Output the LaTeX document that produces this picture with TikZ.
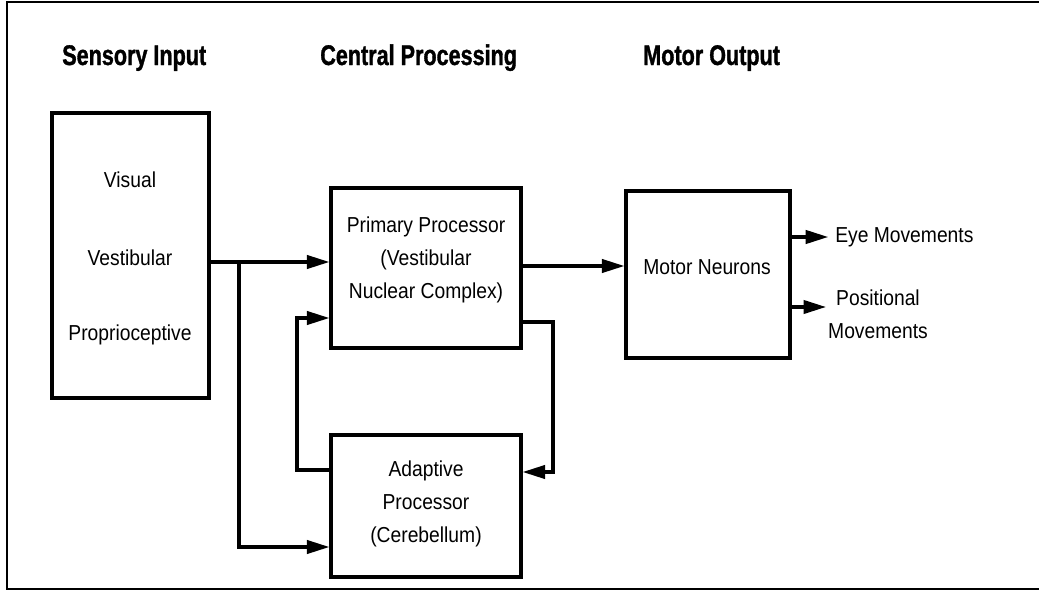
\documentclass[tikz,border=0pt]{standalone}
\usepackage{fontspec}
\setmainfont{Liberation Sans}
\newfontfamily\hdfont[FakeStretch=0.76,BoldFeatures={FakeBold=1.2}]{Liberation Sans}
\newfontfamily\bodyfont[FakeStretch=0.89]{Liberation Sans}
\usetikzlibrary{arrows.meta}
\begin{document}
\begin{tikzpicture}[x=0.025cm,y=-0.025cm,
 box/.style={draw,line width=2.3pt,inner sep=0pt},
 lbl/.style={font=\bodyfont\fontsize{15.4pt}{23.4pt}\selectfont,align=center,inner sep=0pt},
 hdr/.style={font=\hdfont\bfseries\fontsize{20.2pt}{24pt}\selectfont,anchor=base west,inner sep=0pt},
 conn/.style={line width=2.2pt},
 arr/.style={conn,-{Triangle[length=16pt,width=9.5pt]}}]
\useasboundingbox (0,0) rectangle (1039,592);
\draw[line width=1.4pt] (1039,2) -- (7,2) -- (7,589) -- (1039,589);
% headers
\node[hdr] (h1) at (62,65) {Sensory Input};
\node[hdr] (h2) at (320,65) {Central Processing};
\node[hdr] (h3) at (643,65) {Motor Output};
% boxes
\node[box,minimum width=3.925cm,minimum height=7.125cm] (sens) at (130.5,255.5) {};
\node[box,minimum width=4.75cm,minimum height=4cm] (prim) at (426,268) {};
\node[box,minimum width=4.75cm,minimum height=3.55cm] (adap) at (426,506) {};
\node[box,minimum width=4.1cm,minimum height=4.175cm] (motor) at (708,274.5) {};
% texts
\node[lbl] (tvis) at (130,180) {Visual};
\node[lbl] (tves) at (130,258) {Vestibular};
\node[lbl] (tpro) at (130,335) {Proprioceptive};
\node[lbl] (tprim) at (426,260) {Primary Processor\\(Vestibular\\Nuclear Complex)};
\node[lbl] (tadap) at (426,504) {Adaptive\\Processor\\(Cerebellum)};
\node[lbl] (tmot) at (707,267) {Motor Neurons};
\node[lbl,anchor=west] (eye) at (835,237) {Eye Movements};
\node[lbl] (pos) at (878,314) {Positional\\Movements};
% coordinates
\coordinate (j1) at (239,262);
\coordinate (j2) at (239,547);
\coordinate (fb1) at (553,322);
\coordinate (fb2) at (553,472);
\coordinate (fb3) at (297,470);
\coordinate (fb4) at (297,318);
\coordinate (m1) at (600,266);
\coordinate (pe) at (826,307);
% connectors
\draw[conn] (sens.east |- j1) -- (j1);
\draw[arr] (j1) -- (prim.west |- j1);
\draw[arr] (j1) -- (j2) -- (adap.west |- j2);
\draw[arr] (prim.east |- fb1) -- (fb1) -- (fb2) -- (adap.east |- fb2);
\draw[arr] (adap.west |- fb3) -- (fb3) -- (fb4) -- (prim.west |- fb4);
\draw[arr] (prim.east |- m1) -- (motor.west |- m1);
\draw[arr,shorten >=0.17cm] (motor.east |- eye) -- (eye.west);
\draw[arr] (motor.east |- pe) -- (pe);
\end{tikzpicture}
\end{document}
